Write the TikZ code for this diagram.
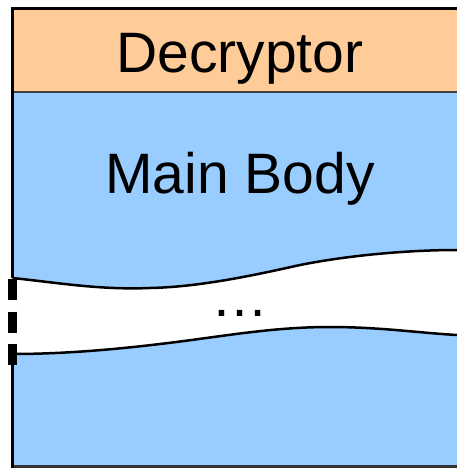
\documentclass[tikz,border=0pt]{standalone}
\usepackage{fontspec}
\setmainfont{Liberation Sans}
\usetikzlibrary{positioning}
\definecolor{decryptorFill}{HTML}{FFCC99}
\definecolor{bodyFill}{HTML}{99CCFF}
\tikzset{
    partLabel/.style={
        anchor=base,
        inner sep=0pt,
        font=\fontsize{57}{68}\selectfont
    },
    waveEdge/.style={
        draw=black,
        line width=2.5pt
    },
    frameEdge/.style={
        draw=black,
        line width=3.2pt
    },
    cutMark/.style={
        draw=black,
        line width=9pt,
        dash pattern=on 21pt off 11.5pt
    }
}

\begin{document}
\begin{tikzpicture}[x=1pt, y=-1pt]
            \useasboundingbox (0,0) rectangle (457,468);
            % Coordinates
            \coordinate (topLeft) at (12.5,8.5);
            \coordinate (sepLeft) at (12.5,92);
            \coordinate (sepRight) at (457,92);
            \coordinate (botLeft) at (12.5,466);
            \coordinate (botRight) at (457,466);
            \coordinate (topRight) at (457,8.5);
            \coordinate (gapTop) at (12.5,278);
            \coordinate (gapBot) at (12.5,354);
            
            % Fills
            \fill[decryptorFill] (topLeft) rectangle (sepRight);
            \fill[bodyFill] (sepLeft) rectangle (botRight);
            
            % Gap in the body
            \fill[white] (gapTop) .. controls (60,283) and (100,290) .. (150,288)
                .. controls (200,287) and (255,275) .. (300,265)
                .. controls (350,255) and (410,250) .. (457,250)
                -- (457,335)
                .. controls (420,333) and (380,327) .. (330,327)
                .. controls (270,327) and (220,337) .. (160,344)
                .. controls (110,350) and (60,354) .. (gapBot) -- cycle;
            \draw[waveEdge] (gapTop) .. controls (60,283) and (100,290) .. (150,288)
                .. controls (200,287) and (255,275) .. (300,265)
                .. controls (350,255) and (410,250) .. (457,250);
            \draw[waveEdge] (gapBot) .. controls (60,354) and (110,350) .. (160,344)
                .. controls (220,337) and (270,327) .. (330,327)
                .. controls (380,327) and (420,333) .. (457,335);
            
            % Frame
            \draw[line width=2.5pt, black!75] (sepLeft) -- (sepRight);
            \draw[frameEdge] (11,8.5) -- (topRight);
            \draw[line width=2.5pt, black!80] (11,466.5) -- (457,466.5);
            \draw[frameEdge] (12.5,7) -- (gapTop);
            \draw[frameEdge] (gapBot) -- (12.5,468);
            \draw[cutMark] (12.5,279) -- (12.5,365);
            
            % Labels
            \node[partLabel] (decryptor) at (240,73) {Decryptor};
            \node[partLabel] (mainBody) at (240,193) {Main Body};
            \node[partLabel] (gapDots) at (240,316) {…};
        \end{tikzpicture}
\end{document}
